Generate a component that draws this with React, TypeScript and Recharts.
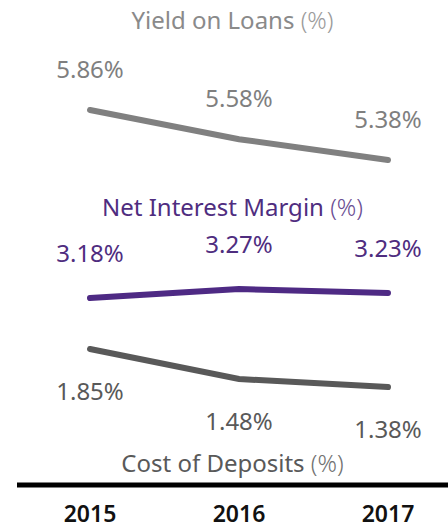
import React from "react";
import { LineChart, Line, XAxis, YAxis, LabelList } from "recharts";

const years = ["2015", "2016", "2017"];
const yieldOnLoans = [5.86, 5.58, 5.38];
const netInterestMargin = [3.18, 3.27, 3.23];
const costOfDeposits = [1.85, 1.48, 1.38];

const data = years.map((year, i) => ({
  year,
  yieldOnLoans: yieldOnLoans[i],
  nim: netInterestMargin[i],
  cod: costOfDeposits[i],
}));

const FONT = "'Noto Sans', 'DejaVu Sans', sans-serif";
const pct = (v: number) => `${v.toFixed(2)}%`;

function Title({ top, color, text }: { top: number; color: string; text: string }) {
  return (
    <div
      style={{
        position: "absolute",
        left: 17,
        width: 431,
        top,
        textAlign: "center",
        fontFamily: FONT,
        fontSize: 24,
        color,
        lineHeight: "28px",
      }}
    >
      {text} <span style={{ fontWeight: 300, opacity: 0.85 }}>(%)</span>
    </div>
  );
}

export default function App() {
  return (
    <div style={{ position: "absolute", left: 0, top: 0, width: 448, height: 529, background: "#fff" }}>
      <LineChart width={448} height={529} data={data} margin={{ top: 0, right: 0, left: 17, bottom: 0 }}>
        <XAxis
          dataKey="year"
          scale="point"
          padding={{ left: 73, right: 60 }}
          height={44}
          axisLine={{ stroke: "#000", strokeWidth: 5 }}
          tickLine={false}
          tickMargin={15}
          tick={{ fontSize: 23, fontWeight: 600, fill: "#111", fontFamily: FONT }}
        />
        <YAxis yAxisId="yield" hide type="number" domain={[2.26, 6.916]} allowDataOverflow />
        <YAxis yAxisId="nim" hide type="number" domain={[1.31, 6.16]} allowDataOverflow />
        <YAxis yAxisId="cod" hide type="number" domain={[0.171, 6.159]} allowDataOverflow />
        <Line
          yAxisId="yield"
          dataKey="yieldOnLoans"
          type="linear"
          stroke="#808080"
          strokeWidth={6}
          strokeLinecap="round"
          dot={false}
          isAnimationActive={false}
        >
          <LabelList
            dataKey="yieldOnLoans"
            position="top"
            offset={32}
            formatter={pct}
            style={{ fontSize: 24, fill: "#7f7f7f", fontFamily: FONT }}
          />
        </Line>
        <Line
          yAxisId="nim"
          dataKey="nim"
          type="linear"
          stroke="#4e2a84"
          strokeWidth={6}
          strokeLinecap="round"
          dot={false}
          isAnimationActive={false}
        >
          <LabelList
            dataKey="nim"
            position="top"
            offset={36}
            formatter={pct}
            style={{ fontSize: 24, fill: "#4f2d7f", fontFamily: FONT }}
          />
        </Line>
        <Line
          yAxisId="cod"
          dataKey="cod"
          type="linear"
          stroke="#595959"
          strokeWidth={6}
          strokeLinecap="round"
          dot={false}
          isAnimationActive={false}
        >
          <LabelList
            dataKey="cod"
            position="bottom"
            offset={34}
            formatter={pct}
            style={{ fontSize: 24, fill: "#595959", fontFamily: FONT }}
          />
        </Line>
      </LineChart>
      <Title top={6} color="#8a8a8a" text="Yield on Loans" />
      <Title top={193} color="#4f2d7f" text="Net Interest Margin" />
      <Title top={449} color="#595959" text="Cost of Deposits" />
    </div>
  );
}
